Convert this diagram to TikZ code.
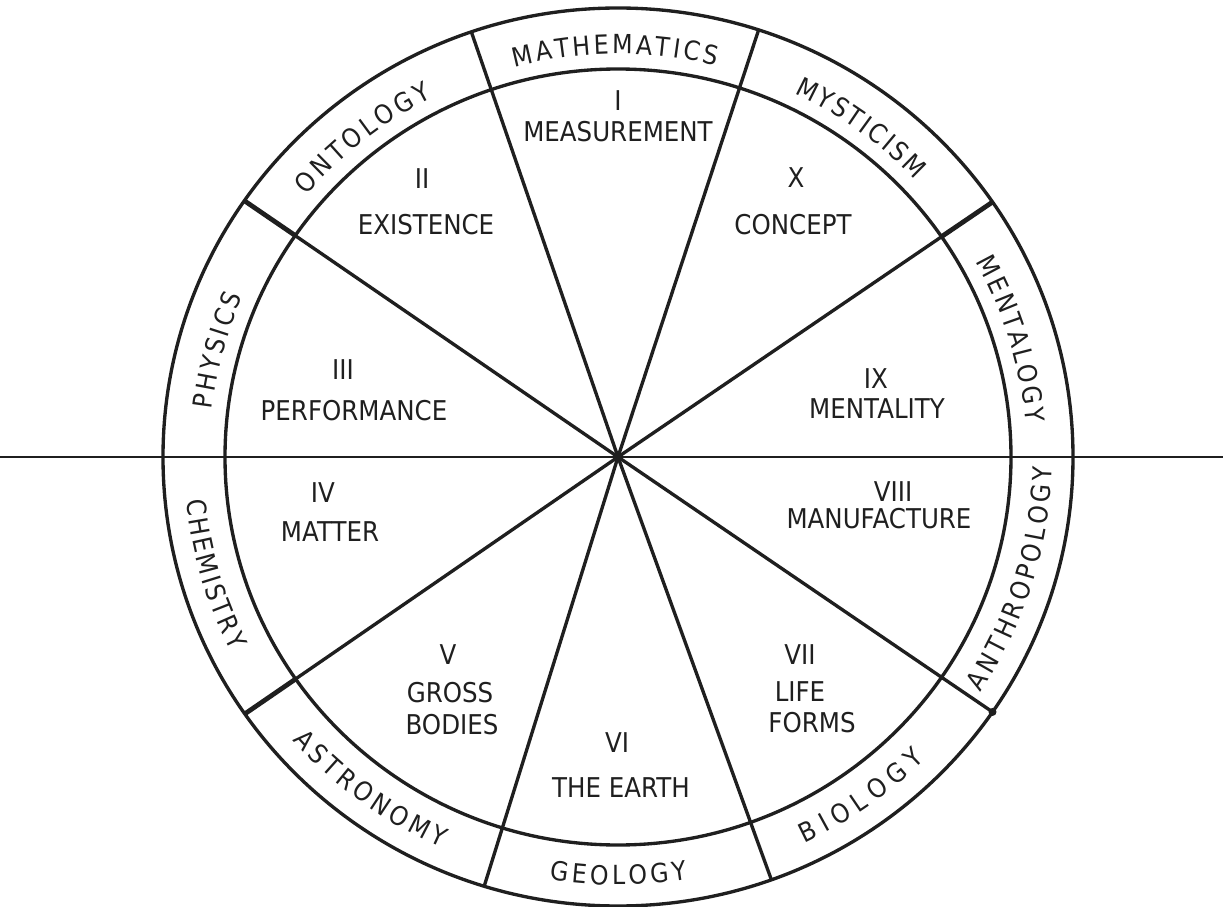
\documentclass[tikz,border=0pt]{standalone}
\usepackage{fontspec}
\newfontfamily\lettering{DejaVu Sans}[FakeStretch=0.9]
\usetikzlibrary{decorations.text}
\newcommand\ringfont{\lettering\fontsize{15pt}{15pt}\selectfont\color{ink}}
\colorlet{ink}{black!88}
\tikzset{
  rim/.style={draw=ink,line width=1.9pt},
  spoke/.style={draw=ink,line width=1.9pt},
  heavyspoke/.style={draw=ink,line width=2.7pt},
  axisline/.style={draw=ink,line width=1.6pt},
  seclbl/.style={font=\lettering\fontsize{15.5pt}{15.5pt}\selectfont,text=ink,inner sep=0pt},
  ringtext/.style={decorate,decoration={text along path,text align={fit to path},
    text={|\ringfont|#1}}},
}

\begin{document}
\begin{tikzpicture}[x=0.02cm,y=0.02cm]
  \useasboundingbox (-618,-449) rectangle (605,457);
  \coordinate (c) at (0,0);
  \coordinate (w) at (-618,0);
  \coordinate (e) at (605,0);

  % rings
  \draw[rim] (c) ellipse [x radius=393,y radius=388];
  \draw[rim] (c) ellipse [x radius=455,y radius=449];

  % spoke ends on both rings
  \foreach \a/\n in {108.8/1,72.0/2,34.6/3,145.2/4,214.9/5,325.4/6,252.9/7,289.7/8}{
    \coordinate (o\n) at (\a:455 and 449);
    \coordinate (i\n) at (\a:393 and 388);
  }

  \draw[axisline] (w) -- (e);
  \foreach \n in {1,...,8} \draw[spoke] (c) -- (o\n);
  \draw[heavyspoke] (i3) -- (o3);
  \draw[heavyspoke] (i4) -- (o4);
  \draw[heavyspoke] (i5) -- (o5);
  \fill[ink] (c) circle (5);
  \fill[ink] (o6) circle (4);

  % sectors
  \node[seclbl] (n1) at (0,356) {I};
  \node[seclbl] (s1) at (0,325) {MEASUREMENT};
  \node[seclbl] (n2) at (-196,278) {II};
  \node[seclbl] (s2) at (-192,232) {EXISTENCE};
  \node[seclbl] (n3) at (-275,87) {III};
  \node[seclbl] (s3) at (-264,46) {PERFORMANCE};
  \node[seclbl] (n4) at (-295,-36) {IV};
  \node[seclbl] (s4) at (-288,-75) {MATTER};
  \node[seclbl] (n5) at (-170,-198) {V};
  \node[seclbl] (s5) at (-168,-236) {GROSS};
  \node[seclbl] (t5) at (-166,-268) {BODIES};
  \node[seclbl] (n6) at (-1,-286) {VI};
  \node[seclbl] (s6) at (3,-331) {THE EARTH};
  \node[seclbl] (n7) at (182,-198) {VII};
  \node[seclbl] (s7) at (182,-235) {LIFE};
  \node[seclbl] (t7) at (194,-266) {FORMS};
  \node[seclbl] (n8) at (275,-35) {VIII};
  \node[seclbl] (s8) at (261,-62) {MANUFACTURE};
  \node[seclbl] (n9) at (258,78) {IX};
  \node[seclbl] (s9) at (259,48) {MENTALITY};
  \node[seclbl] (n10) at (178,279) {X};
  \node[seclbl] (s10) at (175,232) {CONCEPT};

  % ring labels, upper half
  \path[ringtext=MATHEMATICS] (104.7:409 and 403) arc[start angle=104.7,end angle=76.1,x radius=409,y radius=403];
  \path[ringtext=MYSTICISM] (64.5:409 and 403) arc[start angle=64.5,end angle=43.5,x radius=409,y radius=403];
  \path[ringtext=MENTALOGY] (29:409 and 403) arc[start angle=29,end angle=4.8,x radius=409,y radius=403];
  \path[ringtext=ONTOLOGY] (139.5:409 and 403) arc[start angle=139.5,end angle=117,x radius=409,y radius=403];
  \path[ringtext=PHYSICS] (173.2:409 and 403) arc[start angle=173.2,end angle=156.6,x radius=409,y radius=403];
  % ring labels, lower half
  \path[ringtext=ANTHROPOLOGY] (-33.3:434 and 428) arc[start angle=-33.3,end angle=-1.4,x radius=434,y radius=428];
  \path[ringtext=BIOLOGY] (-64.5:434 and 428) arc[start angle=-64.5,end angle=-45,x radius=434,y radius=428];
  \path[ringtext=GEOLOGY] (-99.1:434 and 428) arc[start angle=-99.1,end angle=-80.8,x radius=434,y radius=428];
  \path[ringtext=ASTRONOMY] (221.5:434 and 428) arc[start angle=221.5,end angle=246,x radius=434,y radius=428];
  \path[ringtext=CHEMISTRY] (185.8:434 and 428) arc[start angle=185.8,end angle=207,x radius=434,y radius=428];
\end{tikzpicture}
\end{document}
